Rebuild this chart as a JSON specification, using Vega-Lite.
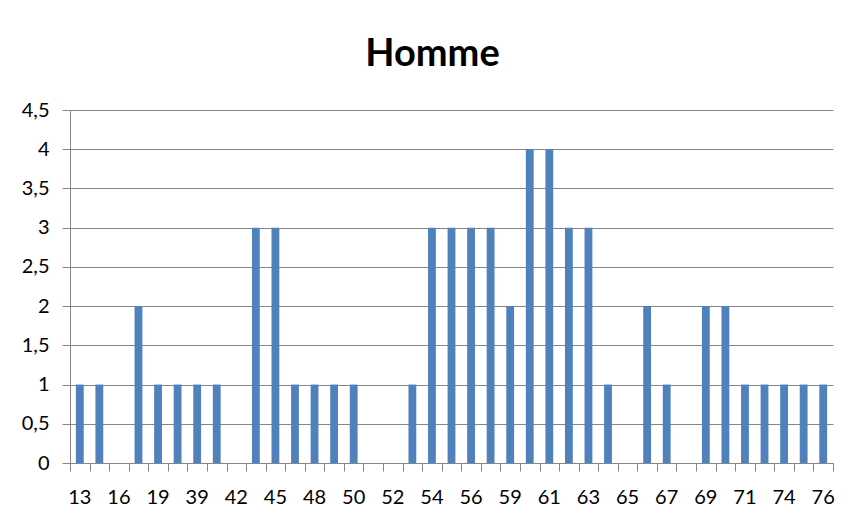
{
  "$schema": "https://vega.github.io/schema/vega-lite/v6.json",
  "autosize": "none",
  "width": 763,
  "height": 353,
  "padding": {"left": 70, "top": 110, "right": 26, "bottom": 58},
  "background": "white",
  "title": {
    "text": "Homme",
    "font": "Lato",
    "fontSize": 38,
    "fontWeight": "bold",
    "color": "#000000",
    "frame": "group",
    "anchor": "middle",
    "baseline": "alphabetic",
    "offset": -4,
    "dx": -19
  },
  "data": {
    "values": [
      {"age": "13", "n": 1}, {"age": "14", "n": 1}, {"age": "16", "n": 0}, {"age": "17", "n": 2},
      {"age": "19", "n": 1}, {"age": "38", "n": 1}, {"age": "39", "n": 1}, {"age": "41", "n": 1},
      {"age": "42", "n": 0}, {"age": "44", "n": 3}, {"age": "45", "n": 3}, {"age": "47", "n": 1},
      {"age": "48", "n": 1}, {"age": "49", "n": 1}, {"age": "50", "n": 1}, {"age": "51", "n": 0},
      {"age": "52", "n": 0}, {"age": "53", "n": 1}, {"age": "54", "n": 3}, {"age": "55", "n": 3},
      {"age": "56", "n": 3}, {"age": "58", "n": 3}, {"age": "59", "n": 2}, {"age": "60", "n": 4},
      {"age": "61", "n": 4}, {"age": "62", "n": 3}, {"age": "63", "n": 3}, {"age": "64", "n": 1},
      {"age": "65", "n": 0}, {"age": "66", "n": 2}, {"age": "67", "n": 1}, {"age": "68", "n": 0},
      {"age": "69", "n": 2}, {"age": "70", "n": 2}, {"age": "71", "n": 1}, {"age": "73", "n": 1},
      {"age": "74", "n": 1}, {"age": "75", "n": 1}, {"age": "76", "n": 1}
    ]
  },
  "layer": [
    {
      "mark": {"type": "bar", "opacity": 0},
      "encoding": {
        "x": {
          "field": "age",
          "type": "nominal",
          "sort": null,
          "scale": {"paddingInner": 0, "paddingOuter": 0},
          "axis": {
            "orient": "bottom",
            "title": null,
            "labels": false,
            "domain": false,
            "tickBand": "extent",
            "tickSize": 8,
            "tickColor": "#868686",
            "grid": false
          }
        },
        "y": {
          "field": "n",
          "type": "quantitative",
          "scale": {"domain": [0, 4.5], "nice": false},
          "axis": {
            "title": null,
            "values": [0, 0.5, 1, 1.5, 2, 2.5, 3, 3.5, 4, 4.5],
            "labelExpr": "replace(toString(datum.value), '.', ',')",
            "labelFont": "Lato",
            "labelFontSize": 20,
            "labelColor": "#000000",
            "labelPadding": 13,
            "tickSize": 8,
            "tickColor": "#868686",
            "domainColor": "#868686",
            "grid": true,
            "gridColor": "#868686",
            "gridOpacity": 1
          }
        }
      }
    },
    {
      "mark": {"type": "bar", "color": "#4F81BD"},
      "encoding": {
        "x": {
          "field": "age",
          "type": "nominal",
          "sort": null,
          "scale": {"paddingInner": 0.6, "paddingOuter": 0.3},
          "axis": {
            "orient": "bottom",
            "title": null,
            "values": ["13","16","19","39","42","45","48","50","52","54","56","59","61","63","65","67","69","71","74","76"],
            "labelOverlap": false,
            "labelAngle": 0,
            "labelFont": "Lato",
            "labelFontSize": 20,
            "labelColor": "#000000",
            "labelPadding": 24,
            "ticks": false,
            "domainColor": "#868686",
            "grid": false
          }
        },
        "y": {
          "field": "n",
          "type": "quantitative",
          "scale": {"domain": [0, 4.5], "nice": false},
          "axis": {
            "title": null,
            "values": [0, 0.5, 1, 1.5, 2, 2.5, 3, 3.5, 4, 4.5],
            "labelExpr": "replace(toString(datum.value), '.', ',')",
            "labelFont": "Lato",
            "labelFontSize": 20,
            "labelColor": "#000000",
            "labelPadding": 13,
            "tickSize": 8,
            "tickColor": "#868686",
            "domainColor": "#868686",
            "grid": true,
            "gridColor": "#868686",
            "gridOpacity": 1
          }
        }
      }
    }
  ],
  "resolve": {"scale": {"x": "independent"}, "axis": {"x": "independent"}},
  "config": {"view": {"stroke": null}}
}
